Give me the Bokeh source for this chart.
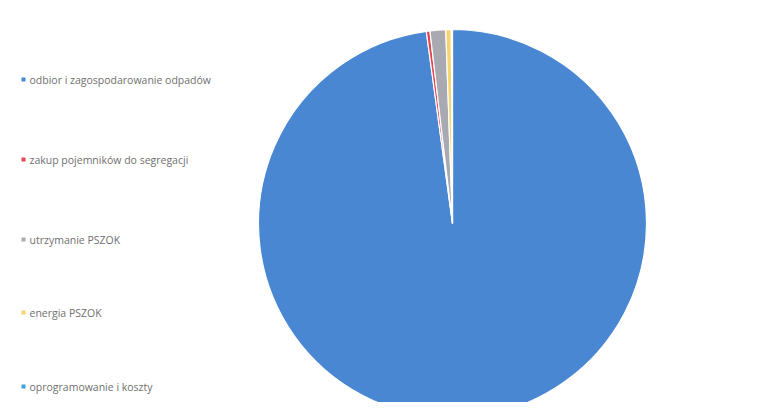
import math
import pandas as pd
from bokeh.plotting import figure
from bokeh.models import ColumnDataSource, Range1d
from bokeh.core.properties import value
from bokeh.embed import file_html
from bokeh.resources import INLINE

# ---- data ----
categories = [
    "odbior i zagospodarowanie odpadów",
    "zakup pojemników do segregacji",
    "utrzymanie PSZOK",
    "energia PSZOK",
    "oprogramowanie i koszty",
]
shares = [97.45, 0.3, 1.3, 0.45, 0.1]
colors = ["#4A87D3", "#E2474F", "#A9A9B1", "#F6D46E", "#3BA2DC"]

W, H = 760, 402
p = figure(width=W, height=H, output_backend="svg", toolbar_location=None,
           x_range=Range1d(0, W), y_range=Range1d(0, H), min_border=0,
           outline_line_color=None, background_fill_color="white")
p.axis.visible = False
p.grid.visible = False

df = pd.DataFrame({"cat": categories, "share": shares, "color": colors})
frac = df["share"] / df["share"].sum()
ce = frac.cumsum()
cs = ce - frac
# Excel-like: clockwise starting from 12 o'clock
df["start"] = math.pi / 2 - 2 * math.pi * ce
df["end"] = math.pi / 2 - 2 * math.pi * cs
src = ColumnDataSource(df)

cx, cy, r = 452, 179, 194
p.wedge(x=cx, y=cy, radius=r, start_angle="start", end_angle="end",
        fill_color="color", line_color="white", line_width=1.2, source=src)

# legend (left, vertically spread)
leg_y = [323, 243, 163, 90, 16]
leg = ColumnDataSource(dict(x=[23] * 5, tx=[29] * 5, y=leg_y,
                            label=categories, color=colors))
p.scatter(x="x", y="y", size=4, marker="square", fill_color="color",
          line_color=None, source=leg)
p.text(x="tx", y="y", text="label", source=leg, text_font=value("Open Sans"),
       text_font_size="10.5px", text_color="#707070", text_baseline="middle",
       text_align="left")

open("out.html", "w").write(file_html(p, INLINE))
